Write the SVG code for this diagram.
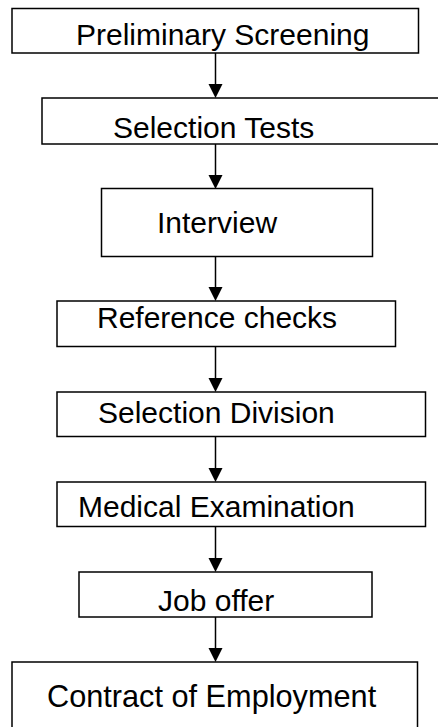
<svg xmlns="http://www.w3.org/2000/svg" width="438" height="727" viewBox="0 0 438 727">
  <style>
    .box { fill: #ffffff; stroke: #000000; stroke-width: 1.5; }
    .lbl { font-family: "Liberation Sans", Arial, sans-serif; font-size: 30px; fill: #000000; }
    .wide { font-size: 30.7px; }
    .link { stroke: #000000; stroke-width: 1.5; fill: none; }
    .head { fill: #000000; }
  </style>
  <rect width="438" height="727" fill="#ffffff"/>

  <!-- connectors: vertical line plus solid triangular head -->
  <g id="connectors">
    <line class="link" x1="215.5" y1="53" x2="215.5" y2="86"/>
    <polygon class="head" points="208.5,84 222.5,84 215.5,98"/>
    <line class="link" x1="215.5" y1="144" x2="215.5" y2="177"/>
    <polygon class="head" points="208.5,175 222.5,175 215.5,189"/>
    <line class="link" x1="215.5" y1="257" x2="215.5" y2="290"/>
    <polygon class="head" points="208.5,287 222.5,287 215.5,301"/>
    <line class="link" x1="215.5" y1="347" x2="215.5" y2="381"/>
    <polygon class="head" points="208.5,378 222.5,378 215.5,392"/>
    <line class="link" x1="215.5" y1="437" x2="215.5" y2="471"/>
    <polygon class="head" points="208.5,468 222.5,468 215.5,482"/>
    <line class="link" x1="215.5" y1="527" x2="215.5" y2="561"/>
    <polygon class="head" points="208.5,558 222.5,558 215.5,572"/>
    <line class="link" x1="215.5" y1="617" x2="215.5" y2="651"/>
    <polygon class="head" points="208.5,648 222.5,648 215.5,662"/>
  </g>

  <g id="preliminary-screening">
    <rect class="box" x="12" y="8.5" width="406.5" height="44.5"/>
    <text class="lbl" x="76" y="45">Preliminary Screening</text>
  </g>

  <g id="selection-tests">
    <rect class="box" x="42" y="98" width="400" height="46"/>
    <text class="lbl" x="113" y="137.5">Selection Tests</text>
  </g>

  <g id="interview">
    <rect class="box" x="101.5" y="188.5" width="271" height="68"/>
    <text class="lbl" x="157" y="232.5">Interview</text>
  </g>

  <g id="reference-checks">
    <rect class="box" x="57" y="301" width="338.5" height="45.5"/>
    <text class="lbl" x="97" y="327.5">Reference checks</text>
  </g>

  <g id="selection-division">
    <rect class="box" x="57" y="392" width="368.5" height="44.5"/>
    <text class="lbl" x="98" y="422.5">Selection Division</text>
  </g>

  <g id="medical-examination">
    <rect class="box" x="57" y="482" width="368.5" height="44.5"/>
    <text class="lbl" x="78" y="516.5">Medical Examination</text>
  </g>

  <g id="job-offer">
    <rect class="box" x="79" y="572" width="293" height="45"/>
    <text class="lbl" x="158" y="611">Job offer</text>
  </g>

  <g id="contract-of-employment">
    <rect class="box" x="12" y="662" width="405.5" height="80"/>
    <text class="lbl wide" x="47" y="706.5">Contract of Employment</text>
  </g>
</svg>
